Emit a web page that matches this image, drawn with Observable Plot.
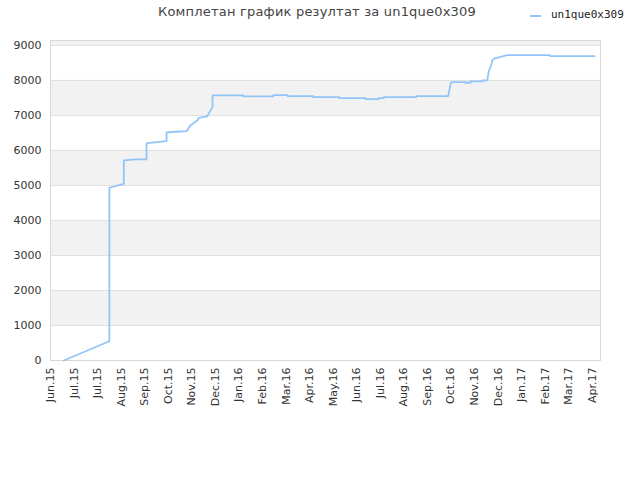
<!DOCTYPE html>
<html>
<head>
<meta charset="utf-8">
<script src="https://cdn.jsdelivr.net/npm/d3@7"></script>
<script src="https://cdn.jsdelivr.net/npm/@observablehq/plot@0.6"></script>
<style>
  html, body { margin: 0; padding: 0; background: #fff; }
  #wrap { position: relative; width: 640px; height: 480px; }
  #title { position: absolute; top: 4px; left: 0; width: 634px; text-align: center;
    font: 13px "DejaVu Sans", sans-serif; color: #444; letter-spacing: 0.2px; }
  #legend { position: absolute; top: 8px; left: 530px; font: 11px "DejaVu Sans Mono", monospace; color: #222;
    display: flex; align-items: center; }
  #legend .sw { display: inline-block; width: 11px; height: 2px; background: #92c5f7; margin-right: 10px; margin-top: 2px; }
  #chart { position: absolute; top: 0; left: 0; }
</style>
</head>
<body>
<div id="wrap">
  <div id="chart"></div>
  <div id="title">Комплетан график резултат за un1que0x309</div>
  <div id="legend"><span class="sw"></span>un1que0x309</div>
</div>
<script>
// Days since the first tick (Jun.15) and the cumulative score
const days = [17, 75, 75, 93.4, 93.4, 108, 122.3, 122.3, 124, 147.8, 147.8, 160.5, 173.2, 174, 178, 187, 189, 199.6, 201, 204.7, 206.4, 206.4, 245.5, 245.5, 283.7, 283.7, 302, 302, 334.6, 334.6, 367.8, 367.8, 401, 401, 418, 418, 424.6, 424.6, 466, 466, 506.6, 508.3, 509.6, 510.4, 527.8, 527.8, 535, 535, 550, 550, 556.3, 557, 558.3, 560.5, 561.8, 563, 565.6, 571, 576.7, 581.8, 636, 636, 693];
const scores = [0, 550, 4934, 5048, 5714, 5743, 5743, 6190, 6210, 6267, 6514, 6534, 6552, 6571, 6714, 6857, 6933, 6971, 7029, 7181, 7238, 7571, 7571, 7543, 7543, 7581, 7581, 7552, 7552, 7524, 7524, 7495, 7495, 7467, 7467, 7495, 7495, 7524, 7524, 7552, 7552, 7762, 7905, 7952, 7952, 7933, 7933, 7971, 7971, 8000, 8000, 8095, 8286, 8381, 8476, 8590, 8629, 8657, 8695, 8723, 8723, 8695, 8695];

const tickLabels = ["Jun.15","Jul.15","Jul.15","Aug.15","Sep.15","Oct.15","Nov.15","Dec.15","Jan.16","Feb.16","Mar.16","Apr.16","May.16","Jun.16","Jul.16","Aug.16","Sep.16","Oct.16","Nov.16","Dec.16","Jan.17","Feb.17","Mar.17","Apr.17"];
const tickDays = tickLabels.map((_, i) => i * 30);
const yTicks = [0, 1000, 2000, 3000, 4000, 5000, 6000, 7000, 8000, 9000];
const bandStarts = [1000, 3000, 5000, 7000, 9000];
const yMax = 9140;
const xMax = 700.5;

const series = days.map((d, i) => ({day: d, score: scores[i]}));
const bands = bandStarts.map(s => ({y1: s, y2: Math.min(s + 1000, yMax)}));

const chart = Plot.plot({
  width: 640,
  height: 480,
  marginLeft: 50,
  marginRight: 40,
  marginTop: 40,
  marginBottom: 120,
  style: {fontFamily: "DejaVu Sans, sans-serif", fontSize: "11px", color: "#333", background: "transparent"},
  x: {domain: [0, xMax]},
  y: {domain: [0, yMax]},
  marks: [
    Plot.rectY(bands, {x1: 0, x2: xMax, y1: "y1", y2: "y2", fill: "#f2f2f2"}),
    Plot.ruleY(yTicks, {stroke: "#e0e0e0", strokeWidth: 1}),
    Plot.frame({stroke: "#d8d8d8", strokeWidth: 1}),
    Plot.axisY({ticks: yTicks, tickSize: 0, tickPadding: 9, label: null, tickFormat: d => String(d)}),
    Plot.axisX({ticks: tickDays, tickSize: 0, tickPadding: 7, tickRotate: -90, label: null,
      tickFormat: (d) => tickLabels[Math.round(d / 30)]}),
    Plot.line(series, {x: "day", y: "score", stroke: "#92c5f7", strokeWidth: 1.8})
  ]
});
document.getElementById("chart").appendChild(chart);
</script>
</body>
</html>
